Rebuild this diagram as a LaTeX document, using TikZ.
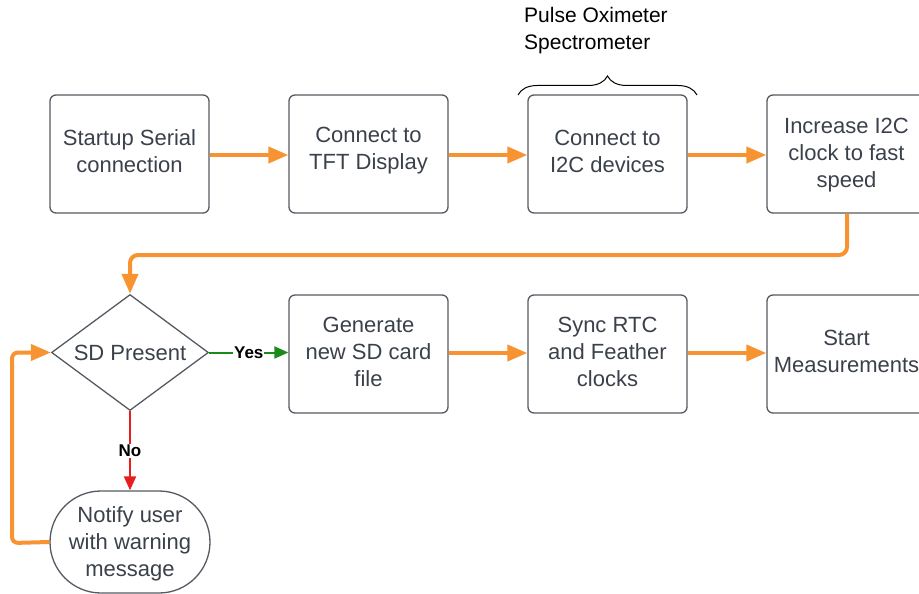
\documentclass[tikz,border=0pt]{standalone}
\usepackage{fontspec}
\setmainfont{Liberation Sans}
\usetikzlibrary{arrows.meta,shapes.geometric,decorations.pathreplacing}
\definecolor{txt}{RGB}{58,65,74}
\definecolor{edge}{RGB}{85,90,98}
\definecolor{orng}{RGB}{247,148,49}
\definecolor{grn}{RGB}{26,138,26}
\definecolor{rd}{RGB}{230,30,30}
\tikzset{
  boxtext/.style={align=center, text=txt, font=\fontsize{22}{27}\selectfont, inner sep=0pt},
  procbox/.style={draw=edge, line width=1.3pt, rounded corners=6pt, minimum width=159pt, minimum height=118pt, inner sep=0pt},
  decbox/.style={draw=edge, line width=1.3pt, diamond, shape aspect=1.4, minimum width=157pt, minimum height=116pt, inner sep=0pt, text=txt, font=\fontsize{22}{27}\selectfont},
  termbox/.style={draw=edge, line width=1.3pt, rounded corners=51pt, minimum width=160pt, minimum height=102pt, inner sep=0pt},
  flow/.style={draw=orng, line width=4pt, -{Triangle[length=20pt,width=16pt]}},
  yesflow/.style={draw=grn, line width=2pt, -{Triangle[length=14pt,width=12pt]}},
  noflow/.style={draw=rd, line width=2pt, -{Triangle[length=14pt,width=12pt]}},
  lbl/.style={fill=white, font=\bfseries\fontsize{17}{19}\selectfont, text=black, inner sep=1pt},
}
\begin{document}
\begin{tikzpicture}[x=1pt,y=-1pt]
\useasboundingbox (0,0) rectangle (919,594);
\clip (0,0) rectangle (919,594);
\node[procbox, label={[boxtext, yshift=3pt]center:Startup Serial\\connection}] (b1) at (129.5,154) {};
\node[procbox, label={[boxtext, yshift=3pt]center:Connect to\\TFT Display}] (b2) at (368.5,154) {};
\node[procbox, label={[boxtext, yshift=3pt]center:Connect to\\I2C devices}] (b3) at (607.5,154) {};
\node[procbox, label={[boxtext, yshift=-1pt]center:Increase I2C\\clock to fast\\speed}] (b4) at (846.5,154) {};
\node[decbox] (d) at (130,352.5) {SD Present};
\node[procbox, label={[boxtext, yshift=2pt]center:Generate\\new SD card\\file}] (b5) at (368.5,354) {};
\node[procbox, label={[boxtext, yshift=2pt]center:Sync RTC\\and Feather\\clocks}] (b6) at (607.5,354) {};
\node[procbox, label={[boxtext, yshift=3pt]center:Start\\Measurements}] (b7) at (846.5,354) {};
\node[termbox, label={[boxtext, yshift=-2pt]center:Notify user\\with warning\\message}] (t) at (130,542) {};
\node[align=left, anchor=north west, text=black, font=\fontsize{21}{27}\selectfont, inner sep=0pt] (title) at (524,7) {Pulse Oximeter\\Spectrometer};
\coordinate (bl) at (518,95);
\coordinate (br) at (697,95);
\draw[decorate, decoration={brace, amplitude=19pt}, line width=1pt, black] (bl) -- (br);
\draw[flow] (b1.east |- 0,155) -- (b2.west |- 0,155);
\draw[flow] (b2.east |- 0,155) -- (b3.west |- 0,155);
\draw[flow] (b3.east |- 0,155) -- (b4.west |- 0,155);
\draw[flow, rounded corners=8pt] (b4.south -| 847,0) -- (847,255) -- (130,255) -- (d.north);
\draw[flow] (b5.east |- 0,353) -- (b6.west |- 0,353);
\draw[flow] (b6.east |- 0,353) -- (b7.west |- 0,353);
\draw[yesflow] (d.east) -- node[lbl] {Yes} (b5.west |- d.east);
\draw[noflow] (d.south) -- node[lbl] {No} (t.north);
\draw[flow, rounded corners=6pt] (t.west) -- (12,543) -- (12,352.5) -- (d.west);
\end{tikzpicture}
\end{document}
